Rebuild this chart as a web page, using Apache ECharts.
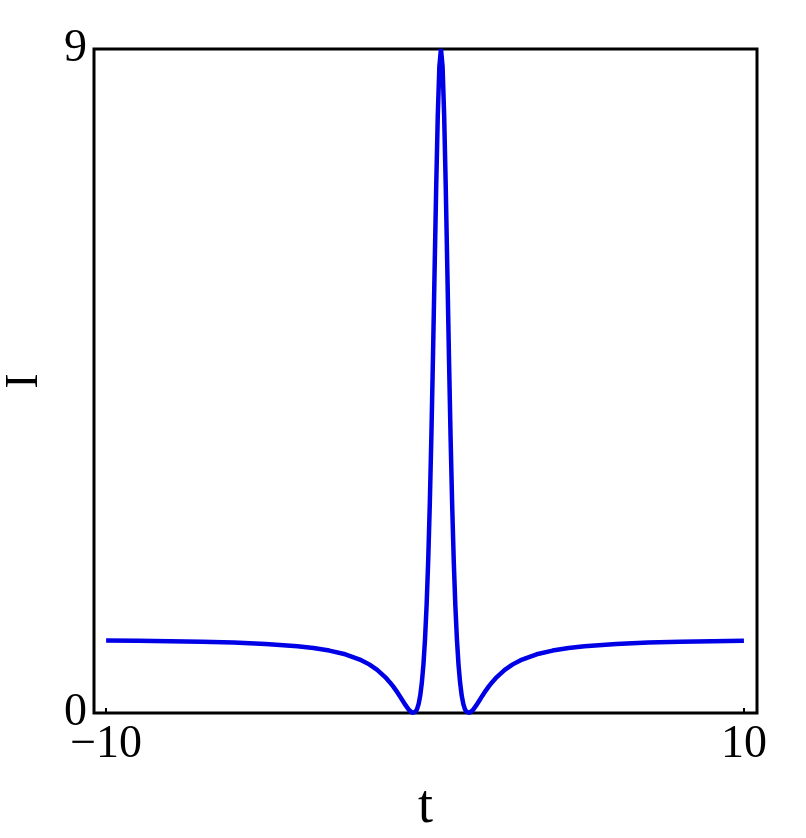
<!DOCTYPE html>
<html>
<head>
<meta charset="utf-8">
<script type="text/javascript" src="https://cdn.jsdelivr.net/npm/echarts@6/dist/echarts.min.js"></script>
<style>
  html, body { margin: 0; padding: 0; background: #fff; }
  #main { width: 806px; height: 838px; }
</style>
</head>
<body>
<div id="main"></div>
<script type="text/javascript">
// values: t and intensity I
var tVals = [-10, -9, -8, -7, -6, -5, -4, -3.5, -3, -2.5, -2, -1.75, -1.5, -1.25, -1.1, -1,
  -0.9, -0.8, -0.7, -0.6, -0.5, -0.45, -0.4, -0.366, -0.35, -0.3, -0.25, -0.2, -0.15, -0.1, -0.05,
  0, 0.05, 0.1, 0.15, 0.2, 0.25, 0.3, 0.35, 0.4, 0.45, 0.5, 0.55, 0.6, 0.65, 0.7, 0.75, 0.8, 0.85, 0.9, 0.95,
  1, 1.05, 1.1, 1.15, 1.2, 1.25, 1.3, 1.35, 1.366, 1.4, 1.45, 1.5, 1.6, 1.7, 1.8, 1.9, 2, 2.1, 2.25, 2.5, 2.75,
  3, 3.5, 4, 4.5, 5, 6, 7, 8, 9, 10];
var iVals = [0.982, 0.978, 0.973, 0.965, 0.954, 0.936, 0.905, 0.881, 0.846, 0.796, 0.716, 0.659, 0.585, 0.487, 0.415, 0.360,
  0.300, 0.235, 0.167, 0.099, 0.040, 0.018, 0.003, 0, 0.001, 0.015, 0.053, 0.124, 0.237, 0.409, 0.656,
  1.000, 1.464, 2.071, 2.838, 3.768, 4.840, 5.994, 7.127, 8.101, 8.764, 9.000, 8.764, 8.101, 7.127, 5.994, 4.840, 3.768, 2.838, 2.071, 1.464,
  1.000, 0.656, 0.409, 0.237, 0.124, 0.053, 0.015, 0.001, 0, 0.003, 0.018, 0.040, 0.099, 0.167, 0.235, 0.300, 0.360, 0.415, 0.487, 0.585, 0.659,
  0.716, 0.796, 0.846, 0.881, 0.905, 0.936, 0.954, 0.965, 0.973, 0.978];
var xTicks = [-10, 10];
var yTicks = [0, 9];

var points = [];
for (var i = 0; i < tVals.length; i++) {
    points.push([tVals[i], iVals[i]]);
}

var serif = "'Liberation Serif', 'Times New Roman', Times, serif";
var myChart = echarts.init(document.getElementById('main'));
var option = {
    animation: false,
    backgroundColor: '#fff',
    grid: {
        left: 94, right: 49, top: 49, bottom: 125,
        outerBoundsMode: 'none',
        containLabel: false,
        show: true, borderColor: '#000', borderWidth: 3, backgroundColor: 'transparent'
    },
    xAxis: {
        type: 'value',
        min: -10.38, max: 10.41,
        name: 't',
        nameLocation: 'middle',
        nameGap: 68,
        nameTextStyle: { fontFamily: serif, fontSize: 54, color: '#000' },
        axisLine: { show: false },
        splitLine: { show: false },
        axisTick: { show: true, inside: true, length: 5, customValues: xTicks,
            lineStyle: { color: '#000', width: 2 } },
        axisLabel: {
            customValues: xTicks,
            margin: 9,
            fontFamily: serif, fontSize: 46, color: '#000',
            formatter: function (v) { return v < 0 ? '\u2212' + Math.abs(v) : String(v); }
        }
    },
    yAxis: {
        type: 'value',
        min: 0, max: 9, interval: 9,
        name: 'I',
        nameLocation: 'middle',
        nameGap: 46,
        nameTextStyle: { fontFamily: serif, fontSize: 46, color: '#000' },
        axisLine: { show: false },
        splitLine: { show: false },
        axisTick: { show: false },
        axisLabel: {
            customValues: yTicks,
            margin: 7,
            fontFamily: serif, fontSize: 46, color: '#000'
        }
    },
    series: [{
        type: 'line',
        data: points,
        showSymbol: false,
        clip: true,
        lineStyle: { color: '#0000e6', width: 4.5 }
    }]
};
myChart.setOption(option);
</script>
</body>
</html>
